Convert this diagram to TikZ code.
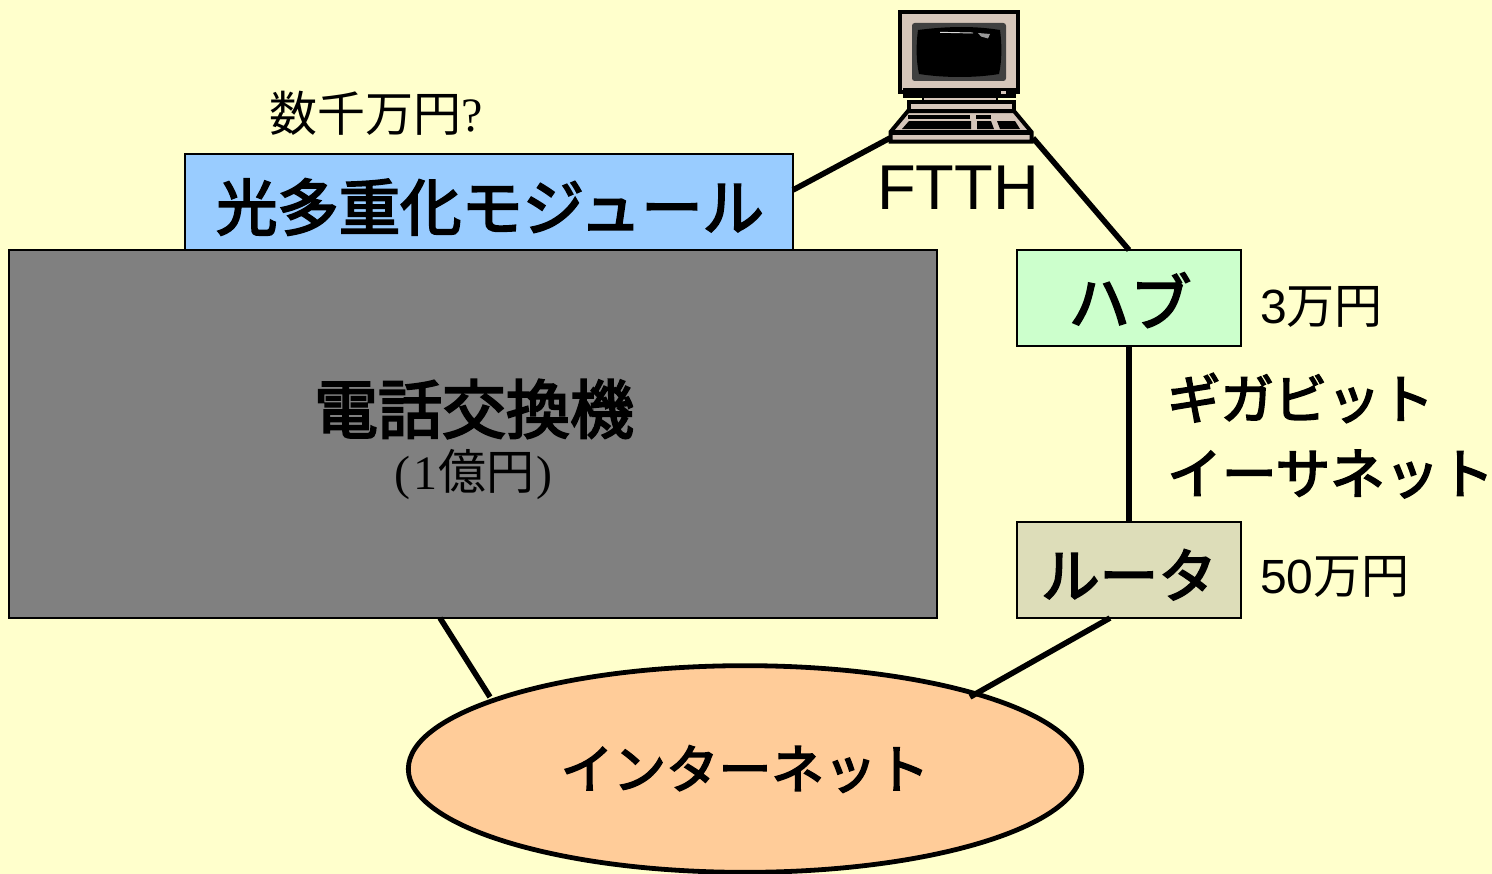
\documentclass[tikz,border=0pt]{standalone}
\usetikzlibrary{shapes.geometric}
\usepackage{fontspec}
\setmainfont{Liberation Sans}
\newfontfamily\jp{Noto Sans CJK JP}
\newfontfamily\jpb[FakeBold=3.2]{Noto Sans CJK JP}
\newfontfamily\tms{Liberation Serif}
\definecolor{bgc}{HTML}{FFFFCC}
\definecolor{modc}{HTML}{99CCFF}
\definecolor{exc}{HTML}{808080}
\definecolor{hubc}{HTML}{CCFFCC}
\definecolor{rtc}{HTML}{DDDDB9}
\definecolor{netc}{HTML}{FFCC99}
\definecolor{pcc}{HTML}{D6C6BA}
\definecolor{scr}{HTML}{404040}
\tikzset{
  boxs/.style={draw=black,line width=1.1pt,inner sep=0pt,outer sep=0pt,align=center},
  link/.style={line width=4.2pt,black},
  big/.style={font=\jpb\fontsize{46}{50}\selectfont},
  mid/.style={font=\jpb\fontsize{40}{46}\selectfont},
  small/.style={font=\jp\fontsize{36}{40}\selectfont,inner sep=0pt},
  pcline/.style={draw=black,line width=3pt,fill=pcc,line join=miter},
}
\begin{document}
\begin{tikzpicture}[x=0.75pt,y=-0.75pt]
\useasboundingbox[fill=bgc] (0,0) rectangle (1492,874);
% computer
\node[inner sep=0pt,outer sep=0pt,minimum width=108pt,minimum height=100pt] (pc) at (961,76.5) {};
\coordinate (pcL) at (890,138);
\coordinate (pcR) at (1033,138);
\draw[pcline] (900,12) rectangle (1018,92);
\fill[black] (903,88) rectangle (1016,98);
\fill[pcc] (1001,91) rectangle (1006,94);
\draw[pcline,line width=1.8pt] (923,97) rectangle (997,102);
\draw[pcline] (908.5,102.5) rectangle (1013.5,112);
\draw[pcline] (908,111) -- (1014,111) -- (1031.5,132) -- (1031.5,141.5) -- (890.5,141.5) -- (890.5,132) -- cycle;
\fill[black] (891,130) rectangle (1031,135);
\fill[black] (908,115) rectangle (970,118.5);
\fill[black] (976,115) rectangle (991,118.5);
\fill[black] (909,121) -- (971,121) -- (971,129) -- (902,129) -- cycle;
\fill[black] (977,121) -- (991,121) -- (994,129) -- (977,129) -- cycle;
\fill[black] (997,121) -- (1015,121) -- (1020,129) -- (1000,129) -- cycle;
\fill[scr,rounded corners=2pt] (912,23) rectangle (1006,81);
\fill[black] (918,30) .. controls (950,26) and (975,26) .. (1000,30)
  .. controls (1002,45) and (1002,60) .. (999,74)
  .. controls (975,78) and (945,78) .. (919,74)
  .. controls (916,60) and (916,45) .. (918,30) -- cycle;
\draw[white!85!black,line width=0.7pt] (940,32.3) -- (973,33);
\fill[white!60!black] (978,33) -- (990,34) -- (988,38.5) -- (981,36.5) -- cycle;
% boxes
\node[boxs,fill=modc,minimum width=456pt,minimum height=72pt,big] (mod) at (489,202) {\hspace{1.5pt}\raisebox{-21.2pt}[0pt][0pt]{光多重化モジュール}};
\node[boxs,fill=exc,minimum width=696pt,minimum height=276pt] (ex) at (473,434) {};
\node[boxs,fill=hubc,minimum width=168pt,minimum height=72pt,big] (hub) at (1129,298) {\hspace{1.5pt}\raisebox{-20.5pt}[0pt][0pt]{ハブ}};
\node[boxs,fill=rtc,minimum width=168pt,minimum height=72pt,font=\jpb\fontsize{44}{50}\selectfont] (rt) at (1129,570) {\raisebox{-20.5pt}[0pt][0pt]{ルータ}};
\node[draw=black,line width=3.6pt,fill=netc,ellipse,inner sep=0pt,outer sep=0pt,minimum width=505pt,minimum height=155pt,font=\jpb\fontsize{39.5}{46}\selectfont] (net) at (745,769) {インターネット};
% labels
\node[font=\jpb\fontsize{48}{52}\selectfont,inner sep=0pt] (extxt) at (474,409) {電話交換機};
\node[small] (exsub) at (473,475) {{\tms(\hspace{2.5pt}1}\hspace{1pt}億円\hspace{1pt}{\tms)}};
\node[small,anchor=west] (cost) at (269,113) {数千万円{\tms\fontsize{36}{40}\selectfont ?}};
\node[font=\fontsize{47.5}{50}\selectfont,inner sep=0pt] (ftth) at (958,188) {FTTH};
\node[small,anchor=west] (hubcost) at (1260,307) {{\rmfamily 3}万円};
\node[small,anchor=west] (rtcost) at (1260,577) {{\rmfamily 50}万円};
\node[mid,inner sep=0pt,anchor=west] (giga1) at (1167,398) {ギガビット};
\node[inner sep=0pt,anchor=west,font=\jpb\fontsize{41}{46}\selectfont] (giga2) at (1167,474) {イーサネット};
% connectors
\coordinate (modR) at (793,190);
\coordinate (netR) at (970,697);
\coordinate (netL) at (490,697);
\coordinate (exB) at (440,618);
\coordinate (rtB) at (1110,618);
\draw[link] (modR) -- (pcL);
\draw[link] (pcR) -- (hub.north);
\draw[link] (hub.south) -- (rt.north);
\draw[link] (rtB) -- (netR);
\draw[link] (exB) -- (netL);
\end{tikzpicture}
\end{document}
